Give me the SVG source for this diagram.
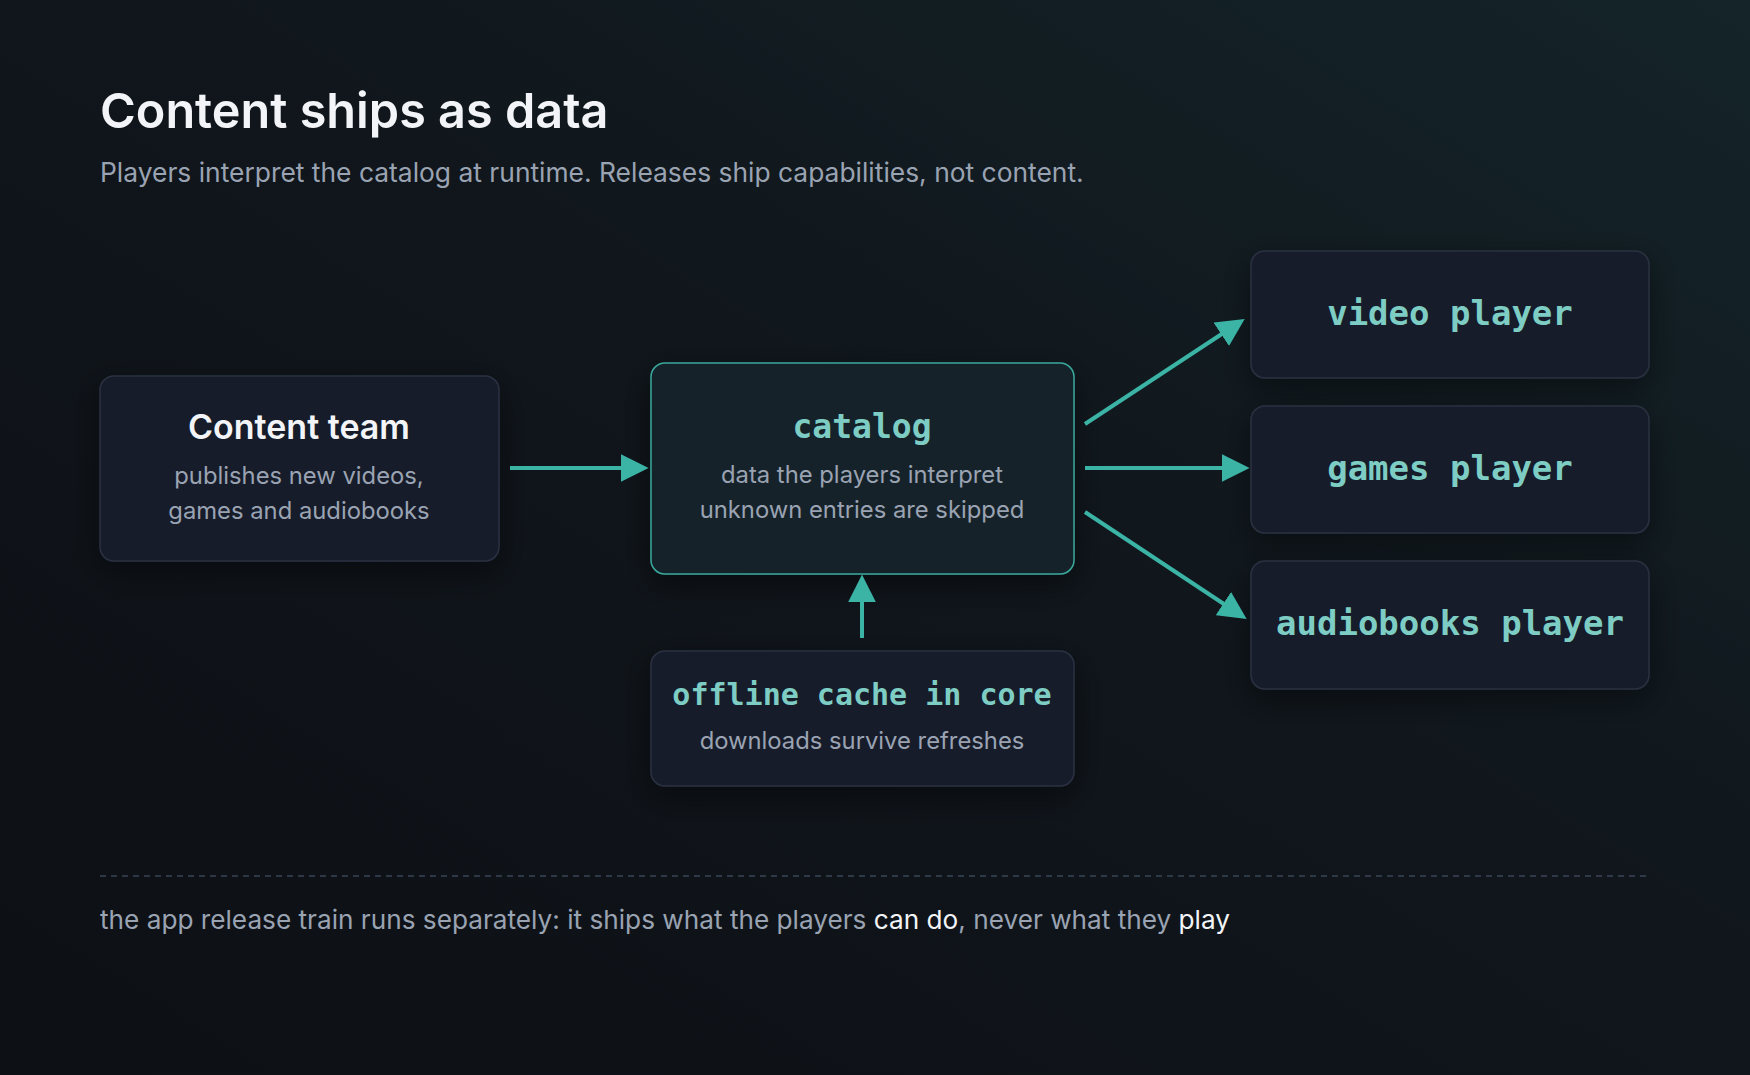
<svg xmlns="http://www.w3.org/2000/svg" width="1750" height="1075" viewBox="0 0 1750 1075">
<defs>
<linearGradient id="bg" x1="0" y1="1" x2="1" y2="0">
<stop offset="0" stop-color="#0d1015"/><stop offset="0.55" stop-color="#10161c"/><stop offset="1" stop-color="#142429"/>
</linearGradient>
<marker id="ah" viewBox="0 0 10 10" refX="8" refY="5" markerWidth="7" markerHeight="7" orient="auto" markerUnits="strokeWidth">
<path d="M0,0 L10,5 L0,10 z" fill="#3bb3a5"/>
</marker>
<filter id="sh" x="-20%" y="-30%" width="140%" height="160%"><feDropShadow dx="0" dy="10" stdDeviation="16" flood-color="#000" flood-opacity="0.45"/></filter>
</defs>
<style>
.box{fill:#181d29;stroke:#2a3142;stroke-width:1.5}
.cat{fill:#13232b;stroke:#3aa89c;stroke-width:1.5}
.h{font-family:Inter,"Liberation Sans",sans-serif;font-weight:600;fill:#f2f4f7;text-anchor:middle}
.m{font-family:"DejaVu Sans Mono","Liberation Mono",monospace;font-weight:bold;fill:#7ecdc4;text-anchor:middle}
.s{font-family:Inter,"Liberation Sans",sans-serif;fill:#9aa3b2;font-size:23.8px;text-anchor:middle}
.c{stroke:#3bb3a5;stroke-width:4;fill:none;marker-end:url(#ah)}
</style>
<rect width="1750" height="1075" fill="url(#bg)"/>
<text x="100" y="128" font-family="Inter,'Liberation Sans',sans-serif" font-weight="600" font-size="48.6" fill="#f2f4f7">Content ships as data</text>
<text x="100" y="182" font-family="Inter,'Liberation Sans',sans-serif" font-size="26.4" fill="#9aa3b2">Players interpret the catalog at runtime. Releases ship capabilities, not content.</text>
<g id="content-team"><rect class="box" x="100" y="376" width="399" height="185" rx="14" filter="url(#sh)"/>
<text class="h" x="299" y="439" font-size="34">Content team</text>
<text class="s" x="299" y="484">publishes new videos,</text><text class="s" x="299" y="519">games and audiobooks</text></g>
<g id="catalog"><rect class="cat" x="651" y="363" width="423" height="211" rx="14" filter="url(#sh)"/>
<text class="m" x="862" y="438" font-size="33">catalog</text>
<text class="s" x="862" y="483">data the players interpret</text><text class="s" x="862" y="518">unknown entries are skipped</text></g>
<g id="offline-cache"><rect class="box" x="651" y="651" width="423" height="135" rx="14" filter="url(#sh)"/>
<text class="m" x="862" y="705" font-size="30">offline cache in core</text>
<text class="s" x="862" y="749">downloads survive refreshes</text></g>
<g id="video-player"><rect class="box" x="1251" y="251" width="398" height="127" rx="14" filter="url(#sh)"/>
<text class="m" x="1450" y="325" font-size="34">video player</text></g>
<g id="games-player"><rect class="box" x="1251" y="406" width="398" height="127" rx="14" filter="url(#sh)"/>
<text class="m" x="1450" y="480" font-size="34">games player</text></g>
<g id="audiobooks-player"><rect class="box" x="1251" y="561" width="398" height="128" rx="14" filter="url(#sh)"/>
<text class="m" x="1450" y="635" font-size="34">audiobooks player</text></g>
<g id="connectors">
<line class="c" x1="510" y1="468" x2="643" y2="468"/>
<line class="c" x1="1085" y1="424" x2="1240" y2="322"/>
<line class="c" x1="1085" y1="468" x2="1244" y2="468"/>
<line class="c" x1="1085" y1="512" x2="1242" y2="616"/>
<line class="c" x1="862" y1="638" x2="862" y2="580"/>
</g>
<line x1="100" y1="876" x2="1650" y2="876" stroke="#3a4656" stroke-width="1.5" stroke-dasharray="6 5"/>
<text x="100" y="929" font-family="Inter,'Liberation Sans',sans-serif" font-size="26.2" fill="#9aa3b2">the app release train runs separately: it ships what the players <tspan fill="#f2f4f7">can do</tspan>, never what they <tspan fill="#f2f4f7">play</tspan></text>
</svg>
